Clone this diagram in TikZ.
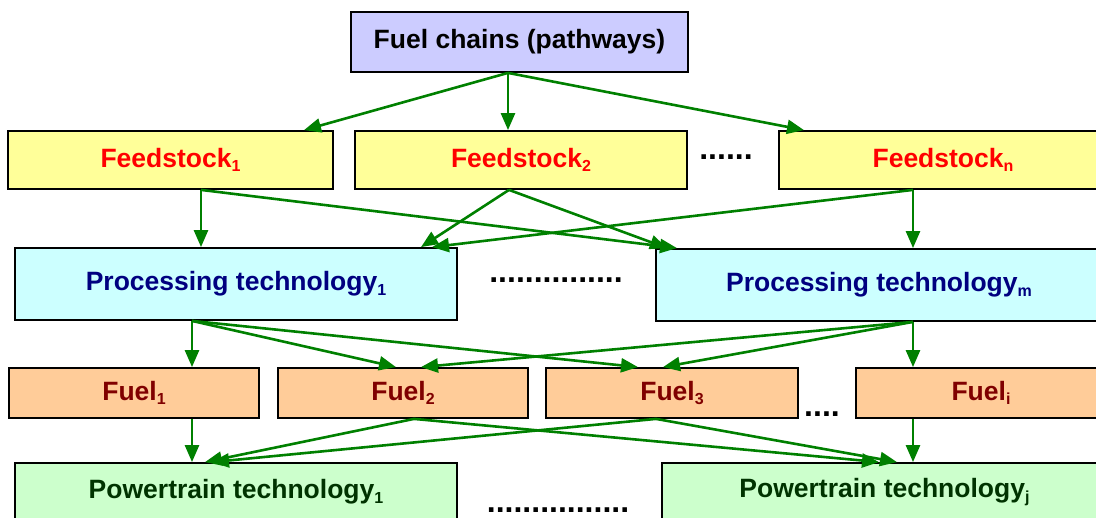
\documentclass[tikz,border=0pt]{standalone}
\usepackage{fontspec}
\setmainfont{Liberation Sans}
\usetikzlibrary{arrows.meta}
\definecolor{arrgreen}{HTML}{008000}
\definecolor{topfill}{HTML}{CCCCFF}
\definecolor{feedfill}{HTML}{FFFF99}
\definecolor{procfill}{HTML}{CCFFFF}
\definecolor{fuelfill}{HTML}{FFCC99}
\definecolor{ptfill}{HTML}{CCFFCC}
\definecolor{feedtxt}{HTML}{FF0000}
\definecolor{proctxt}{HTML}{000080}
\definecolor{fueltxt}{HTML}{800000}
\definecolor{pttxt}{HTML}{003300}
\newcommand\mysub[1]{\raisebox{-4.5pt}{\fontsize{16}{16}\selectfont #1}}
\begin{document}
\begin{tikzpicture}[x=1pt,y=-1pt,
  box/.style={draw=black,line width=1.8pt,inner sep=0pt,font=\fontsize{26.5}{30}\selectfont\bfseries},
  topbox/.style={box,fill=topfill,text=black,minimum height=60pt},
  feedbox/.style={box,fill=feedfill,text=feedtxt,minimum height=58pt},
  procbox/.style={box,fill=procfill,text=proctxt,minimum height=72pt},
  fuelbox/.style={box,fill=fuelfill,text=fueltxt,minimum height=50pt},
  ptbox/.style={box,fill=ptfill,text=pttxt,minimum height=58pt},
  dots/.style={inner sep=0pt,font=\fontsize{32}{32}\selectfont\bfseries},
  arr/.style={draw=arrgreen,line width=2.6pt,-{Triangle[length=17pt,width=14pt]}}]
\useasboundingbox (0,0) rectangle (1096,518);
\clip (0,0) rectangle (1096,518);
% nodes
\node[topbox,minimum width=337pt] (top) at (519.5,42) {Fuel chains (pathways)};
\node[feedbox,minimum width=325pt] (f1) at (170.5,160) {Feedstock\mysub{1}};
\node[feedbox,minimum width=332pt] (f2) at (521,160) {Feedstock\mysub{2}};
\node[feedbox,minimum width=328pt] (fn) at (943,160) {Feedstock\mysub{n}};
\node[dots] (d1) at (726,157) {......};
\node[procbox,minimum width=442pt] (p1) at (236,284) {Processing technology\mysub{1}};
\node[procbox,minimum width=446pt] (pm) at (879,285) {Processing technology\mysub{m}};
\node[dots] (d2) at (556,280) {...............};
\node[fuelbox,minimum width=250pt] (u1) at (134,393) {Fuel\mysub{1}};
\node[fuelbox,minimum width=250pt] (u2) at (403,393) {Fuel\mysub{2}};
\node[fuelbox,minimum width=252pt] (u3) at (672,393) {Fuel\mysub{3}};
\node[fuelbox,minimum width=250pt] (ui) at (981,393) {Fuel\mysub{i}};
\node[dots] (d3) at (822,414) {....};
\node[ptbox,minimum width=442pt] (t1) at (236,492) {Powertrain technology\mysub{1}};
\node[ptbox,minimum width=445pt] (tj) at (884.5,492) {Powertrain technology\mysub{j}};
\node[dots] (d4) at (558,510) {................};
% arrows level 1
\draw[arr] ([xshift=-11.5pt]top.south) -- ([xshift=133.5pt]f1.north);
\draw[arr] ([xshift=-11.5pt]top.south) -- ([xshift=-13pt]f2.north);
\draw[arr] ([xshift=-11.5pt]top.south) -- ([xshift=-139pt]fn.north);
% level 2
\draw[arr] ([xshift=30.5pt]f1.south) -- ([xshift=-35pt]p1.north);
\draw[arr] ([xshift=30.5pt]f1.south) -- ([xshift=-202pt]pm.north);
\draw[arr] ([xshift=-12pt]f2.south) -- ([xshift=185pt]p1.north);
\draw[arr] ([xshift=-12pt]f2.south) -- ([xshift=-212pt]pm.north);
\draw[arr] ([xshift=-30pt]fn.south) -- ([xshift=196pt]p1.north);
\draw[arr] ([xshift=-30pt]fn.south) -- ([xshift=34pt]pm.north);
% level 3
\draw[arr] ([xshift=-44pt]p1.south) -- ([xshift=58pt]u1.north);
\draw[arr] ([xshift=-44pt]p1.south) -- ([xshift=-7pt]u2.north);
\draw[arr] ([xshift=-44pt]p1.south) -- ([xshift=-34pt]u3.north);
\draw[arr] ([xshift=34pt]pm.south) -- ([xshift=18pt]u2.north);
\draw[arr] ([xshift=34pt]pm.south) -- ([xshift=-9pt]u3.north);
\draw[arr] ([xshift=34pt]pm.south) -- ([xshift=-68pt]ui.north);
% level 4
\draw[arr] ([xshift=58pt]u1.south) -- ([xshift=-44pt]t1.north);
\draw[arr] ([xshift=11pt]u2.south) -- ([xshift=-31pt]t1.north);
\draw[arr] ([xshift=11pt]u2.south) -- ([xshift=-5.5pt]tj.north);
\draw[arr] ([xshift=-16pt]u3.south) -- ([xshift=-24pt]t1.north);
\draw[arr] ([xshift=-16pt]u3.south) -- ([xshift=12.5pt]tj.north);
\draw[arr] ([xshift=-68pt]ui.south) -- ([xshift=28.5pt]tj.north);
\end{tikzpicture}
\end{document}
